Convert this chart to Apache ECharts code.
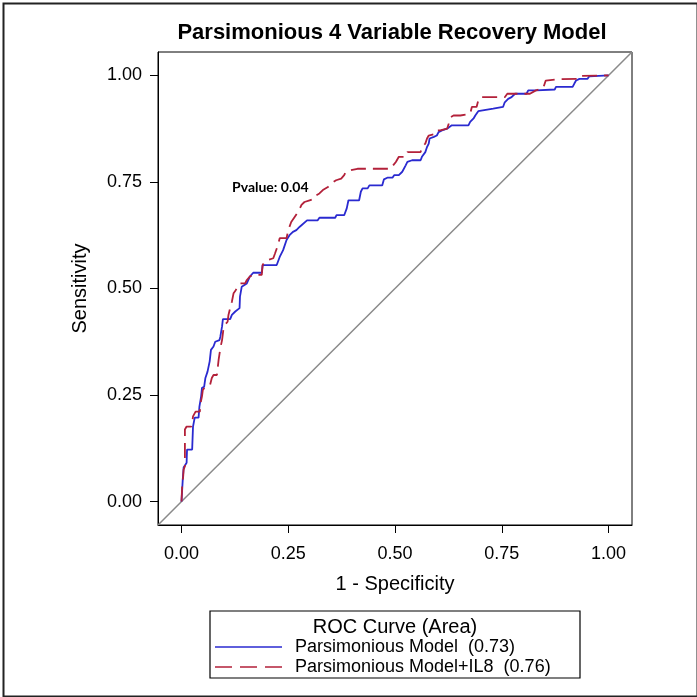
<!DOCTYPE html>
<html>
<head>
<meta charset="utf-8">
<script src="https://cdn.jsdelivr.net/npm/echarts@6/dist/echarts.min.js"></script>
<style>
html,body{margin:0;padding:0;background:#fff;}
#chart{width:697px;height:697px;}
</style>
</head>
<body>
<div id="chart"></div>
<script>
var titleText = 'Parsimonious 4 Variable Recovery Model';
var xAxisTitle = '1 - Specificity';
var yAxisTitle = 'Sensitivity';
var legendTitle = 'ROC Curve (Area)';
var seriesNames = ['Parsimonious Model  (0.73)', 'Parsimonious Model+IL8  (0.76)'];
var annotation = 'Pvalue: 0.04';
var tickValues = [0, 0.25, 0.5, 0.75, 1];
var diagonal = [-0.055, 1.055];

// Parsimonious Model (blue, solid)
var blueFpr = [0,0.002,0.003,0.005,0.012,0.013,0.025,0.027,0.031,0.040,0.042,0.046,0.048,0.053,0.056,0.061,0.066,0.069,0.075,0.079,0.089,0.091,0.095,0.097,0.114,0.118,0.126,0.136,0.137,0.141,0.153,0.160,0.168,0.188,0.190,0.223,0.230,0.238,0.246,0.253,0.261,0.269,0.277,0.294,0.319,0.323,0.360,0.363,0.381,0.387,0.391,0.416,0.420,0.424,0.436,0.440,0.470,0.474,0.482,0.494,0.498,0.509,0.517,0.521,0.525,0.529,0.540,0.560,0.563,0.567,0.571,0.575,0.579,0.581,0.591,0.598,0.602,0.610,0.622,0.633,0.672,0.676,0.684,0.688,0.695,0.730,0.733,0.753,0.757,0.761,0.765,0.773,0.781,0.808,0.812,0.831,0.835,0.874,0.877,0.916,0.920,0.924,0.932,0.951,0.955,1.0];
var blueTpr = [0,0.0,0.052,0.080,0.091,0.122,0.122,0.176,0.197,0.197,0.223,0.247,0.267,0.269,0.290,0.305,0.329,0.356,0.364,0.375,0.379,0.387,0.411,0.428,0.428,0.438,0.446,0.454,0.481,0.504,0.512,0.528,0.537,0.537,0.555,0.555,0.574,0.590,0.614,0.625,0.633,0.637,0.645,0.660,0.660,0.666,0.666,0.672,0.672,0.688,0.707,0.707,0.727,0.735,0.735,0.742,0.742,0.756,0.760,0.760,0.766,0.766,0.774,0.778,0.789,0.797,0.801,0.801,0.809,0.813,0.820,0.832,0.840,0.852,0.856,0.859,0.867,0.871,0.875,0.883,0.883,0.891,0.899,0.906,0.916,0.922,0.926,0.926,0.937,0.941,0.945,0.949,0.957,0.957,0.965,0.965,0.967,0.967,0.973,0.973,0.981,0.988,0.992,0.992,0.998,1.0];

// Parsimonious Model+IL8 (red, dashed)
var redFpr = [0,0.002,0.004,0.005,0.008,0.008,0.012,0.023,0.025,0.027,0.033,0.043,0.044,0.048,0.050,0.056,0.067,0.071,0.075,0.083,0.087,0.091,0.095,0.098,0.102,0.108,0.110,0.114,0.118,0.122,0.127,0.131,0.137,0.149,0.153,0.160,0.168,0.188,0.190,0.195,0.203,0.215,0.219,0.226,0.230,0.246,0.250,0.257,0.265,0.273,0.281,0.288,0.300,0.312,0.316,0.323,0.331,0.343,0.350,0.362,0.374,0.381,0.385,0.397,0.412,0.490,0.494,0.502,0.509,0.525,0.529,0.560,0.563,0.571,0.575,0.579,0.583,0.595,0.598,0.606,0.610,0.622,0.626,0.630,0.637,0.653,0.657,0.676,0.680,0.691,0.695,0.699,0.757,0.763,0.816,0.830,0.847,0.853,0.881,0.928,0.933,1.0];
var redTpr = [0,0.044,0.059,0.075,0.083,0.169,0.176,0.176,0.184,0.200,0.211,0.211,0.227,0.247,0.262,0.270,0.274,0.290,0.297,0.297,0.333,0.360,0.379,0.403,0.415,0.422,0.438,0.454,0.469,0.489,0.496,0.504,0.512,0.512,0.520,0.528,0.532,0.532,0.555,0.563,0.567,0.571,0.582,0.602,0.618,0.618,0.637,0.656,0.668,0.680,0.696,0.703,0.707,0.711,0.719,0.723,0.731,0.738,0.746,0.754,0.758,0.766,0.774,0.778,0.781,0.781,0.787,0.797,0.809,0.809,0.820,0.820,0.832,0.840,0.852,0.859,0.863,0.863,0.871,0.871,0.875,0.875,0.887,0.902,0.906,0.906,0.910,0.910,0.926,0.926,0.941,0.949,0.949,0.957,0.957,0.965,0.970,0.988,0.991,0.992,0.999,1.0];

function pairs(a, b) { return a.map(function (v, i) { return [v, b[i]]; }); }

var FONT = '"Liberation Sans", Arial, sans-serif';
var BLUE = '#2a2ad0';
var RED = '#b3213a';
var RED_DASH = [15, 7];
var chart = echarts.init(document.getElementById('chart'), null, {renderer: 'canvas'});

var axisCommon = {
  type: 'value',
  min: diagonal[0],
  max: diagonal[1],
  nameLocation: 'middle',
  nameTextStyle: {fontFamily: FONT, fontSize: 20, color: '#000'},
  axisLine: {show: true, onZero: false, lineStyle: {color: '#000', width: 1}},
  axisTick: {show: true, length: 8, lineStyle: {color: '#000', width: 1}, customValues: tickValues},
  axisLabel: {fontFamily: FONT, fontSize: 18, color: '#000', customValues: tickValues,
    formatter: function (v) { return v.toFixed(2); }},
  splitLine: {show: false}
};

chart.setOption({
  animation: false,
  backgroundColor: '#fff',
  title: {
    text: titleText,
    left: 387, top: 17, textAlign: 'center',
    textStyle: {fontFamily: FONT, fontSize: 22, fontWeight: 'bold', color: '#000'}
  },
  grid: {left: 158, right: 65, top: 52, bottom: 172, show: true, borderColor: '#000', borderWidth: 1, containLabel: false},
  xAxis: Object.assign({}, axisCommon, {
    name: xAxisTitle, nameGap: 49,
    axisLabel: Object.assign({}, axisCommon.axisLabel, {margin: 20})
  }),
  yAxis: Object.assign({}, axisCommon, {
    name: yAxisTitle, nameGap: 68, nameRotate: 90,
    axisLabel: Object.assign({}, axisCommon.axisLabel, {margin: 16})
  }),
  series: [
    {
      name: 'diag', type: 'line', data: pairs(diagonal, diagonal),
      symbol: 'none', silent: true,
      lineStyle: {color: '#8a8a8a', width: 1.5}
    },
    {
      name: seriesNames[0], type: 'line', data: pairs(blueFpr, blueTpr),
      symbol: 'none', color: BLUE,
      lineStyle: {color: BLUE, width: 1.8}
    },
    {
      name: seriesNames[1], type: 'line', data: pairs(redFpr, redTpr),
      symbol: 'none', color: RED,
      lineStyle: {color: RED, width: 1.8, type: RED_DASH}
    }
  ],
  graphic: [
    {type: 'rect', left: 1, top: 1, silent: true,
      shape: {x: 0, y: 0, width: 694, height: 693},
      style: {fill: 'none', stroke: '#222', lineWidth: 2}},
    {type: 'rect', silent: true,
      shape: {x: 210, y: 611, width: 370, height: 67},
      style: {fill: 'none', stroke: '#000', lineWidth: 1.2}},
    {type: 'text', silent: true, x: 395, y: 627,
      style: {text: legendTitle, fill: '#000', font: '20px ' + FONT, align: 'center', verticalAlign: 'middle'}},
    {type: 'line', silent: true, shape: {x1: 215, y1: 647, x2: 282, y2: 647},
      style: {stroke: BLUE, lineWidth: 1.5}},
    {type: 'text', silent: true, x: 295, y: 647,
      style: {text: seriesNames[0], fill: '#000', font: '18px ' + FONT, align: 'left', verticalAlign: 'middle'}},
    {type: 'line', silent: true, shape: {x1: 215, y1: 667, x2: 282, y2: 667},
      style: {stroke: RED, lineWidth: 1.5, lineDash: [17, 8]}},
    {type: 'text', silent: true, x: 295, y: 667,
      style: {text: seriesNames[1], fill: '#000', font: '18px ' + FONT, align: 'left', verticalAlign: 'middle'}},
    {type: 'text', silent: true, x: 232, y: 187,
      style: {text: annotation, fill: '#000', font: 'bold 14px Lato, "Open Sans", sans-serif', align: 'left', verticalAlign: 'middle'}}
  ]
});
</script>
</body>
</html>
